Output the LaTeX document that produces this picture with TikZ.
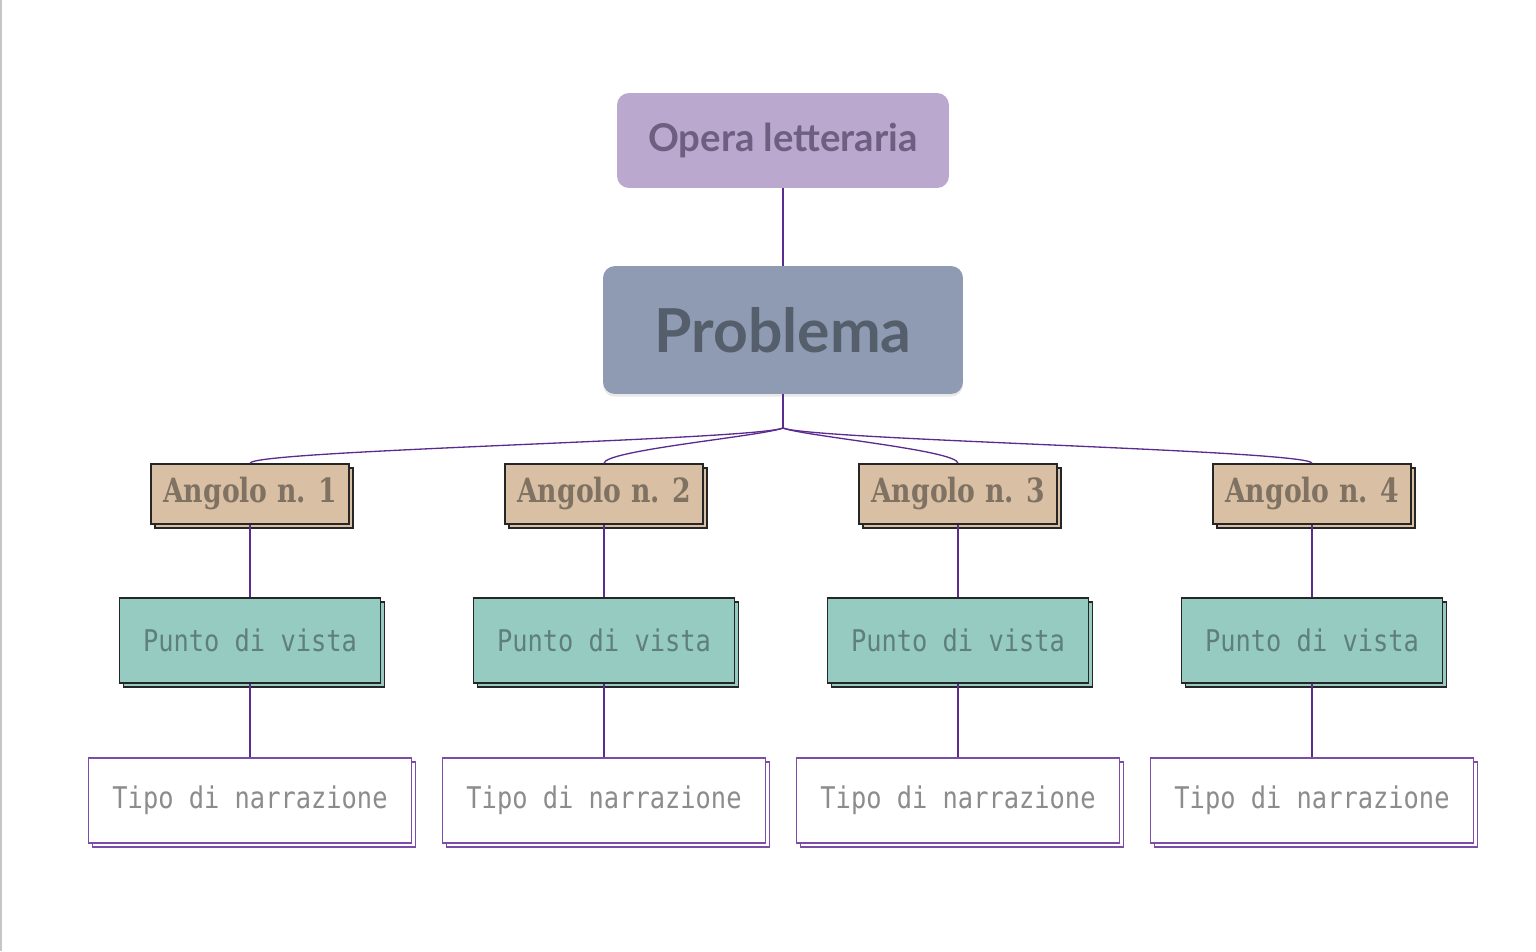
\documentclass[tikz,border=0pt]{standalone}
\usepackage{fontspec}
\usepackage{xcolor}
\usepackage{tikz}
\usetikzlibrary{calc}
\usetikzlibrary{shadows}
\newfontfamily\titlefont{Lato}
\newfontfamily\angfont{DejaVu Serif}[FakeStretch=0.8]
\newfontfamily\pvfont{DejaVu Sans Mono}[FakeStretch=0.85]
\definecolor{operafill}{HTML}{BBA8CF}
\definecolor{operatext}{HTML}{6E5F80}
\definecolor{probfill}{HTML}{8F9BB3}
\definecolor{probtext}{HTML}{555E6B}
\definecolor{link}{HTML}{5B2C8F}
\definecolor{angfill}{HTML}{D9BFA3}
\definecolor{angtext}{HTML}{7F7263}
\definecolor{pvfill}{HTML}{96CBC2}
\definecolor{pvtext}{HTML}{5F7F7A}
\definecolor{tipoline}{HTML}{7B4DA8}
\definecolor{tipotext}{HTML}{8C8C8C}
\tikzstyle{opera} = [rectangle, rounded corners=6.8pt, fill=operafill, text=operatext, minimum width=6.64cm, minimum height=1.9cm, font=\titlefont\bfseries\fontsize{21.8}{26}\selectfont]
\tikzstyle{prob} = [rectangle, rounded corners=6.8pt, fill=probfill, text=probtext, minimum width=7.2cm, minimum height=2.56cm, font=\titlefont\bfseries\fontsize{34.5}{40}\selectfont, drop shadow={shadow xshift=0pt, shadow yshift=-1.5pt, opacity=0.18}]
\tikzstyle{angolo} = [rectangle, draw=black!85, line width=0.8pt, fill=angfill, text=angtext, minimum width=3.96cm, minimum height=1.2cm, font=\angfont\bfseries\fontsize{19}{22}\selectfont, copy shadow={shadow xshift=2.3pt, shadow yshift=-2.3pt}]
\tikzstyle{punto} = [rectangle, draw=black!85, line width=0.8pt, fill=pvfill, text=pvtext, minimum width=5.22cm, minimum height=1.7cm, font=\pvfont\fontsize{17}{20}\selectfont, copy shadow={shadow xshift=2.3pt, shadow yshift=-2.3pt}]
\tikzstyle{tipo} = [rectangle, draw=tipoline, line width=0.8pt, fill=white, text=tipotext, minimum width=6.46cm, minimum height=1.7cm, font=\pvfont\fontsize{17}{20}\selectfont, copy shadow={shadow xshift=2.3pt, shadow yshift=-2.3pt}]
\tikzstyle{conn} = [-, draw=link, line width=0.75pt]

\begin{document}
\begin{tikzpicture}[x=0.02cm, y=-0.02cm]
\useasboundingbox (0, 0) rectangle (1536, 951);
\draw [gray!45, line width=1pt] (1, 0) -- (1, 951);
\node [opera] (opera) at (783, 140.5) {Opera letteraria};
\node [prob] (prob) at (783, 330) {Problema};
\coordinate (hub) at (783, 428);
% angoli
\node [angolo] (ang1) at (250, 494) {Angolo n. 1};
\node [angolo] (ang2) at (604, 494) {Angolo n. 2};
\node [angolo] (ang3) at (958, 494) {Angolo n. 3};
\node [angolo] (ang4) at (1312, 494) {Angolo n. 4};
% punti di vista
\node [punto] (pv1) at (250, 640.5) {Punto di vista};
\node [punto] (pv2) at (604, 640.5) {Punto di vista};
\node [punto] (pv3) at (958, 640.5) {Punto di vista};
\node [punto] (pv4) at (1312, 640.5) {Punto di vista};
% narrazione
\node [tipo] (tn1) at (250, 800.5) {Tipo di narrazione};
\node [tipo] (tn2) at (604, 800.5) {Tipo di narrazione};
\node [tipo] (tn3) at (958, 800.5) {Tipo di narrazione};
\node [tipo] (tn4) at (1312, 800.5) {Tipo di narrazione};
\draw [conn, line width=1.1pt] (opera) -- (prob);
\draw [conn] (prob) -- (hub);
\draw [conn] (hub) .. controls ($(hub)+(-30,12)$) and ($(ang1.north)+(0,-13)$) .. (ang1.north);
\draw [conn] (hub) .. controls ($(hub)+(-20,8)$) and ($(ang2.north)+(0,-13)$) .. (ang2.north);
\draw [conn] (hub) .. controls ($(hub)+(20,8)$) and ($(ang3.north)+(0,-13)$) .. (ang3.north);
\draw [conn] (hub) .. controls ($(hub)+(30,12)$) and ($(ang4.north)+(0,-13)$) .. (ang4.north);
\draw [conn] (ang1) -- (pv1);
\draw [conn] (ang2) -- (pv2);
\draw [conn] (ang3) -- (pv3);
\draw [conn] (ang4) -- (pv4);
\draw [conn] (pv1) -- (tn1);
\draw [conn] (pv2) -- (tn2);
\draw [conn] (pv3) -- (tn3);
\draw [conn] (pv4) -- (tn4);
\end{tikzpicture}
\end{document}
